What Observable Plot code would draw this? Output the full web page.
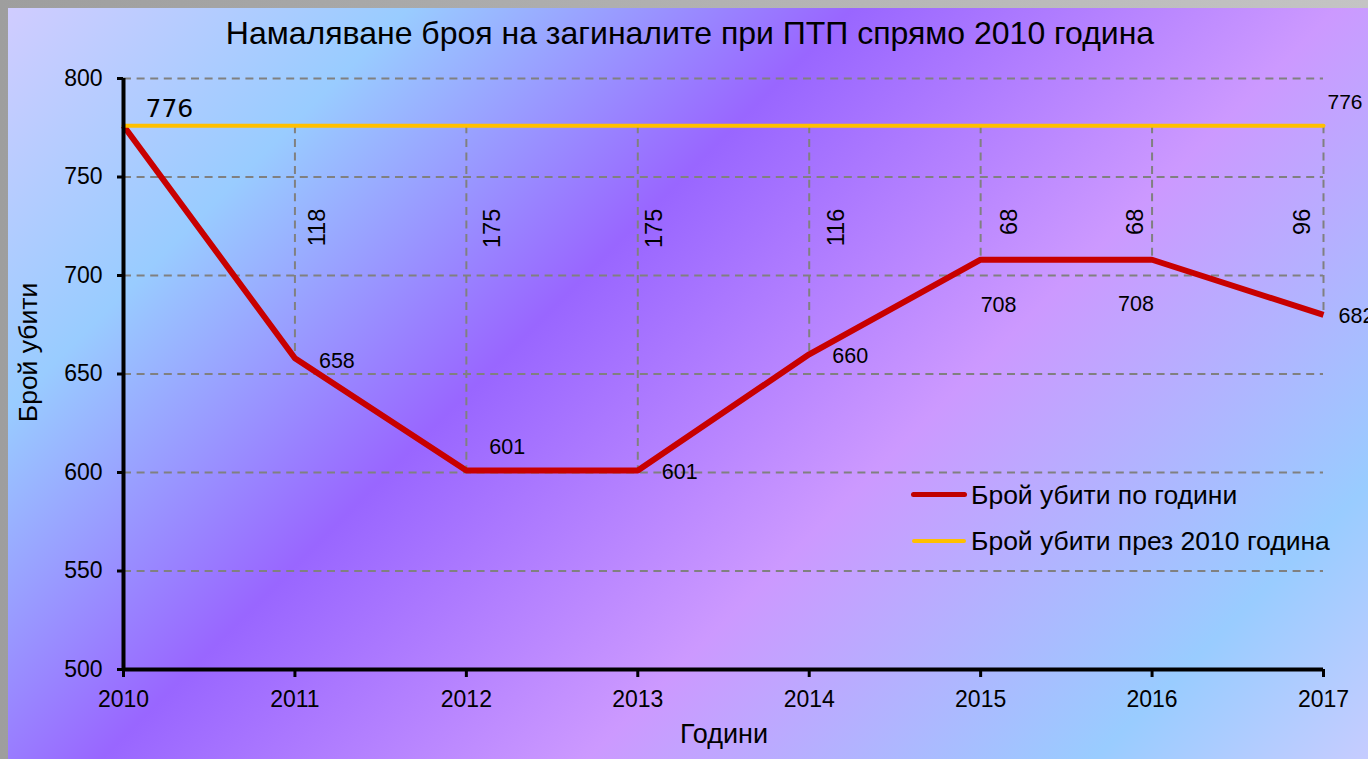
<!DOCTYPE html>
<html>
<head>
<meta charset="utf-8">
<script src="https://cdn.jsdelivr.net/npm/d3@7"></script>
<script src="https://cdn.jsdelivr.net/npm/@observablehq/plot@0.6"></script>
<style>
html, body { margin: 0; padding: 0; width: 1368px; height: 759px; overflow: hidden;
  background: linear-gradient(90deg, #9e9e9e, #c4c4c4); font-family: "Liberation Sans", Arial, sans-serif; }
#bg { position: absolute; left: 8px; top: 8px; width: 1360px; height: 751px;
  background: linear-gradient(135deg, #d0ccff 0%, #99ccff 19%, #9966ff 40%, #cc99ff 63%, #99ccff 87%, #c6ccff 100%); }
#chart { position: absolute; left: 0; top: 0; }
.leg { position: absolute; font-size: 26.5px; line-height: 26.5px; color: #000; white-space: nowrap; }
.sw { position: absolute; border-radius: 3px; }
</style>
</head>
<body>
<div id="bg"></div>
<div id="chart"></div>
<div class="sw" style="left:911px; top:491.5px; width:56px; height:5px; background:#c00000;"></div>
<div class="leg" style="left:971px; top:482.1px;">Брой убити по години</div>
<div class="sw" style="left:912px; top:539px; width:54px; height:4px; background:#ffc000;"></div>
<div class="leg" style="left:971px; top:528.1px;">Брой убити през 2010 година</div>
<script>
// ---- data ----
const years = [2010, 2011, 2012, 2013, 2014, 2015, 2016, 2017];
const killed = [776, 658, 601, 601, 660, 708, 708, 680];
const baseline2010 = 776;
const pointLabels = ["", "658", "601", "601", "660", "708", "708", "682"];
const yTicks = [500, 550, 600, 650, 700, 750, 800];
const title = "Намаляване броя на загиналите при ПТП спрямо 2010 година";
const xTitle = "Години";
const yTitle = "Брой убити";

// ---- layout (label offsets, px) ----
const pointOffsets = [[0,0],[24,3],[23,-23],[24,2],[23,2],[0,45],[-34,44],[15,1]];
const diffOffsets = [0, 23, 26, 17, 27, 29, -17, -21];

const rows = years.map((y, i) => ({
  year: y, value: killed[i], label: pointLabels[i],
  diff: baseline2010 - killed[i], pdx: pointOffsets[i][0], pdy: pointOffsets[i][1], ddx: diffOffsets[i]
}));
const dropRows = rows.filter(d => d.diff !== 0);
const labelRows = rows.filter(d => d.label !== "");

const gray = "#808080";
const dash = "8,5.6";

const marks = [
  // grid
  Plot.ruleY(yTicks.filter(d => d > 500), {stroke: gray, strokeWidth: 2, strokeDasharray: dash}),
  // drop lines between series
  Plot.ruleX(dropRows, {x: "year", y1: () => baseline2010, y2: "value", stroke: gray, strokeWidth: 2, strokeDasharray: dash}),
  // data line
  Plot.line(rows, {x: "year", y: "value", stroke: "#c80000", strokeWidth: 6, strokeLinejoin: "miter", strokeLinecap: "butt"}),
  // baseline
  Plot.line(years.map(y => ({year: y, value: baseline2010})), {x: "year", y: "value", stroke: "#ffc000", strokeWidth: 4}),
  // axes
  Plot.axisY({ticks: yTicks, tickSize: 6, tickPadding: 15, fontSize: 23, strokeWidth: 3, label: null, tickFormat: d3.format("d")}),
  Plot.axisX({ticks: years, tickSize: 8, tickPadding: 13, fontSize: 23, strokeWidth: 3, label: null, tickFormat: d3.format("d")}),
  Plot.ruleX([years[0]], {y1: yTicks[0], y2: yTicks[yTicks.length - 1], stroke: "black", strokeWidth: 4}),
  Plot.ruleY([yTicks[0]], {x1: years[0], x2: years[years.length - 1], stroke: "black", strokeWidth: 4}),
  // baseline labels
  Plot.text([{year: years[0], value: baseline2010}], {x: "year", y: "value", text: d => String(d.value), textAnchor: "start", dx: 22, dy: -16.5, fontSize: 25, fontFamily: "DejaVu Sans", fill: "black"}),
  Plot.text([{year: years[years.length - 1], value: baseline2010}], {x: "year", y: "value", text: d => String(d.value), textAnchor: "start", dx: 4, dy: -23.5, fontSize: 21, fill: "black"}),
  // titles
  Plot.text([title], {frameAnchor: "top", text: d => d, textAnchor: "middle", lineAnchor: "middle", dx: -33.5, dy: -45, fontSize: 32, fill: "black"}),
  Plot.text([xTitle], {frameAnchor: "bottom", text: d => d, textAnchor: "middle", lineAnchor: "middle", dx: 0.5, dy: 65, fontSize: 27, fill: "black"}),
  Plot.text([yTitle], {frameAnchor: "left", text: d => d, textAnchor: "middle", lineAnchor: "middle", rotate: -90, dx: -95, dy: -21.5, fontSize: 26.5, fill: "black"})
];

// point labels with per-label offsets
labelRows.forEach(d => {
  marks.push(Plot.text([d], {x: "year", y: "value", text: "label", textAnchor: "start", dx: d.pdx, dy: d.pdy, fontSize: 21.5, fill: "black"}));
});
// difference labels (rotated)
dropRows.forEach(d => {
  marks.push(Plot.text([d], {x: "year", y: () => baseline2010, text: r => String(r.diff), rotate: -90, textAnchor: "end", dx: d.ddx, dy: 83, fontSize: 23.5, fill: "black"}));
});

const chart = Plot.plot({
  width: 1368,
  height: 759,
  marginLeft: 123,
  marginRight: 45,
  marginTop: 78,
  marginBottom: 90,
  x: {domain: [years[0], years[years.length - 1]], axis: null},
  y: {domain: [yTicks[0], yTicks[yTicks.length - 1]], axis: null},
  style: {background: "transparent", fontFamily: "Liberation Sans, Arial, sans-serif", color: "black", overflow: "visible"},
  marks
});
document.getElementById("chart").appendChild(chart);
</script>
</body>
</html>
